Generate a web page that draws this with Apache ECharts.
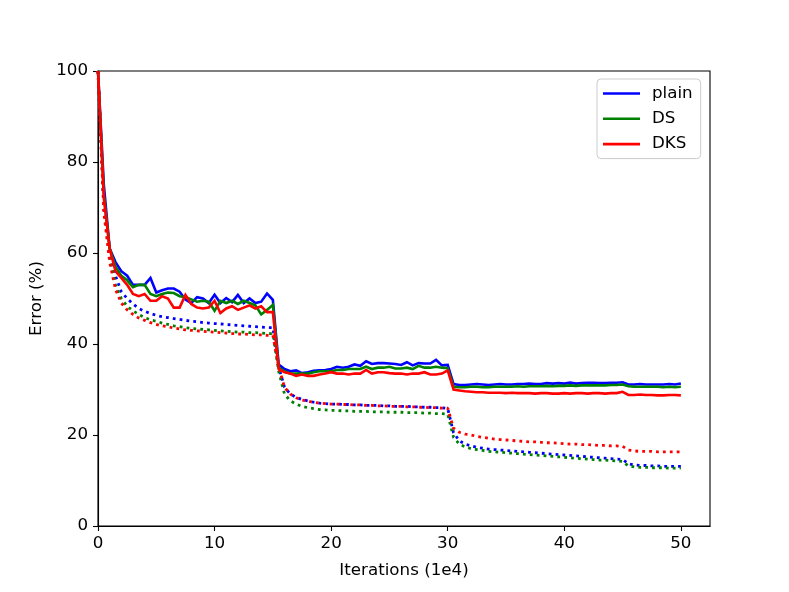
<!DOCTYPE html>
<html>
<head>
<meta charset="utf-8">
<script src="https://cdn.jsdelivr.net/npm/echarts@6/dist/echarts.min.js"></script>
<style>html,body{margin:0;padding:0;background:#fff}#c{width:789px;height:592px}</style>
</head>
<body>
<div id="c"></div>
<script>
// Iteration grid (units of 1e4), sampled every 0.5
const STEP = 0.5;
const xTicks = [0, 10, 20, 30, 40, 50];
const yTicks = [0, 20, 40, 60, 80, 100];
const seriesNames = ['plain', 'DS', 'DKS'];

// Test error (solid lines)
const plainTest = [100,75,61,58,56,55,53,53,53,54.5,51.3,51.8,52.2,52.2,51.5,49.8,49,50.3,50,49,50.8,49,50.1,49.2,50.8,49,50,49,49.3,51.1,49.7,
  35.5,34.5,34,34.2,33.6,33.8,34.1,34.2,34.3,34.5,35,34.8,35,35.5,35.2,36.2,35.6,35.8,35.8,35.7,35.6,35.4,36,35.3,35.8,35.7,35.7,36.5,35.3,35.4,
  31.2,31,31,31.1,31.2,31.1,31,31.1,31.2,31.1,31.1,31.2,31.2,31.3,31.2,31.2,31.4,31.3,31.4,31.3,31.5,31.3,31.4,31.5,31.5,31.4,31.4,31.5,31.5,31.6,
  31.1,31.1,31.2,31.1,31.1,31.1,31.1,31.2,31.1,31.3];
const dsTest = [100,73,61,57,55,54,52.5,53,53,51,50.5,51,51.3,51.2,50.5,50.3,49.8,49.3,49.5,49.3,47.3,49.5,49,49.5,48.8,49.5,49,48.5,46.5,47.5,48.6,
  34.8,34,33.5,33.5,33.5,33.5,33.8,34,34,34,34.3,34.3,34.5,34.5,34.5,35,34.5,34.8,34.8,35,34.6,34.6,34.8,34.5,35.2,34.8,34.8,35,34.8,34.7,
  30.6,30.5,30.5,30.6,30.6,30.5,30.5,30.6,30.6,30.6,30.6,30.7,30.6,30.7,30.7,30.7,30.8,30.7,30.8,30.8,30.9,30.8,30.9,30.9,30.9,30.9,30.9,31,31,31.1,
  30.7,30.6,30.6,30.6,30.6,30.6,30.5,30.6,30.5,30.6];
const dksTest = [100,72,61,56,54.5,53,51,50.5,51,49.5,49.5,50.5,50,48,48,50.8,48.8,48,47.8,48,49.5,46.8,47.8,48.3,47.5,48,48.5,47.8,48.3,47,47,
  34.5,33.8,33.5,33,33.3,33,33,33.3,33.5,33.8,33.5,33.5,33.3,33.5,33.5,34.3,33.5,33.8,33.8,33.6,33.5,33.5,33.3,33.5,33.5,33.8,33.3,33.3,33.5,34.2,
  30,29.8,29.6,29.5,29.4,29.4,29.3,29.3,29.3,29.2,29.3,29.2,29.2,29.2,29.1,29.2,29.2,29.1,29.1,29.2,29.1,29.2,29.2,29.1,29.2,29.2,29.1,29.2,29.2,29.5,
  28.8,28.8,28.9,28.8,28.8,28.7,28.7,28.8,28.8,28.7];

// Training error (dotted lines)
const plainTrain = [100,70,60,55,51.5,50,48.8,47.8,47.2,46.7,46.3,46,45.8,45.6,45.4,45.2,45,44.9,44.7,44.6,44.5,44.4,44.3,44.2,44.1,44,43.9,43.8,43.7,43.6,43.6,
  35,30.5,29,28.3,27.8,27.5,27.2,27,26.9,26.8,26.8,26.7,26.7,26.6,26.6,26.5,26.5,26.5,26.4,26.4,26.3,26.3,26.3,26.2,26.2,26.1,26.1,26,26,25.8,
  20.5,18.7,18,17.6,17.3,17.1,16.9,16.8,16.7,16.6,16.5,16.4,16.3,16.2,16.1,16,15.9,15.8,15.7,15.6,15.5,15.4,15.3,15.2,15.1,15,14.9,14.8,14.7,14.6,
  13.7,13.4,13.3,13.3,13.2,13.2,13.1,13.1,13.1,13.1];
const dsTrain = [100,70,59,53,50,48.3,47.3,46.5,45.8,45.3,45,44.6,44.3,44,43.8,43.6,43.4,43.3,43.2,43.1,43,42.9,42.8,42.7,42.6,42.6,42.5,42.5,42.4,42.3,42.3,
  34,29,27.5,26.8,26.3,26,25.8,25.6,25.5,25.4,25.4,25.3,25.3,25.2,25.2,25.2,25.1,25.1,25.1,25,25,25,24.9,24.9,24.9,24.8,24.8,24.7,24.7,24.6,
  19.5,18,17.4,17,16.8,16.6,16.4,16.3,16.2,16.1,16,15.9,15.8,15.7,15.6,15.5,15.4,15.3,15.2,15.1,15,14.9,14.8,14.7,14.6,14.5,14.5,14.4,14.3,14.2,
  13.2,13,12.9,12.9,12.8,12.8,12.8,12.7,12.7,12.7];
const dksTrain = [100,69,58,52,49,47.5,46.5,45.7,45.2,44.7,44.3,44,43.8,43.5,43.3,43.1,43,42.9,42.8,42.7,42.6,42.5,42.4,42.3,42.2,42.2,42.1,42,42,41.9,41.9,
  35,30.5,29,28.2,27.7,27.4,27.2,27,26.9,26.8,26.8,26.7,26.7,26.6,26.6,26.5,26.5,26.4,26.4,26.3,26.3,26.3,26.2,26.2,26.1,26.1,26,26,25.9,25.9,
  21.5,20.6,20.2,20,19.7,19.5,19.3,19.1,19,18.9,18.8,18.7,18.6,18.5,18.5,18.4,18.3,18.3,18.2,18.1,18,18,17.9,17.9,17.8,17.7,17.7,17.6,17.6,17.5,
  16.7,16.5,16.4,16.4,16.4,16.3,16.3,16.3,16.3,16.3];

const colors = ['#0000ff', '#008000', '#ff0000'];
const FONT = 'DejaVu Sans';
const FS = 16.7;

function pairs(arr) { return arr.map((v, i) => [i * STEP, v]); }
function solid(name, data, color) {
  return { name: name, type: 'line', data: pairs(data), showSymbol: false, symbol: 'none',
    lineStyle: { color: color, width: 2.6, cap: 'butt', join: 'miter' }, itemStyle: { color: color },
    animation: false, silent: true };
}
function dotted(name, data, color) {
  return { name: name, type: 'line', data: pairs(data), showSymbol: false, symbol: 'none',
    lineStyle: { color: color, width: 2.8, type: [2.8, 4.1], cap: 'butt' }, itemStyle: { color: color },
    animation: false, silent: true };
}

const chart = echarts.init(document.getElementById('c'), null, { renderer: 'canvas' });
chart.setOption({
  backgroundColor: '#fff',
  animation: false,
  grid: { left: 98, right: 79, top: 71, bottom: 66, show: true, borderColor: '#000', borderWidth: 1.1, backgroundColor: 'transparent' },
  legend: {
    data: seriesNames.map(n => ({ name: n, icon: 'rect' })),
    orient: 'vertical', left: 597, top: 79,
    itemWidth: 37, itemHeight: 2.6, itemGap: 8.3,
    padding: [6, 8, 6, 6],
    backgroundColor: 'rgba(255,255,255,0.8)', borderColor: '#cccccc', borderWidth: 1, borderRadius: 4,
    textStyle: { fontFamily: FONT, fontSize: FS, color: '#000', lineHeight: 17, padding: [0, 0, 0, 7] },
    selectedMode: false
  },
  xAxis: {
    type: 'value', min: 0, max: 52.5,
    name: 'Iterations (1e4)', nameLocation: 'middle', nameGap: 36,
    nameTextStyle: { fontFamily: FONT, fontSize: FS, color: '#000' },
    axisLine: { show: true, lineStyle: { color: '#000', width: 1.1 } },
    axisTick: { show: true, length: 5, lineStyle: { color: '#000', width: 1.1 }, customValues: xTicks },
    axisLabel: { fontFamily: FONT, fontSize: FS, color: '#000', margin: 9, customValues: xTicks },
    splitLine: { show: false }
  },
  yAxis: {
    type: 'value', min: 0, max: 100, interval: 20,
    name: 'Error (%)', nameLocation: 'middle', nameGap: 50, nameRotate: 90,
    nameTextStyle: { fontFamily: FONT, fontSize: FS, color: '#000' },
    axisLine: { show: true, lineStyle: { color: '#000', width: 1.1 } },
    axisTick: { show: true, length: 5, lineStyle: { color: '#000', width: 1.1 }, customValues: yTicks },
    axisLabel: { fontFamily: FONT, fontSize: FS, color: '#000', margin: 10, customValues: yTicks },
    splitLine: { show: false }
  },
  series: [
    solid('plain', plainTest, colors[0]),
    dotted('plain train', plainTrain, colors[0]),
    solid('DS', dsTest, colors[1]),
    dotted('DS train', dsTrain, colors[1]),
    solid('DKS', dksTest, colors[2]),
    dotted('DKS train', dksTrain, colors[2])
  ]
});
</script>
</body>
</html>
